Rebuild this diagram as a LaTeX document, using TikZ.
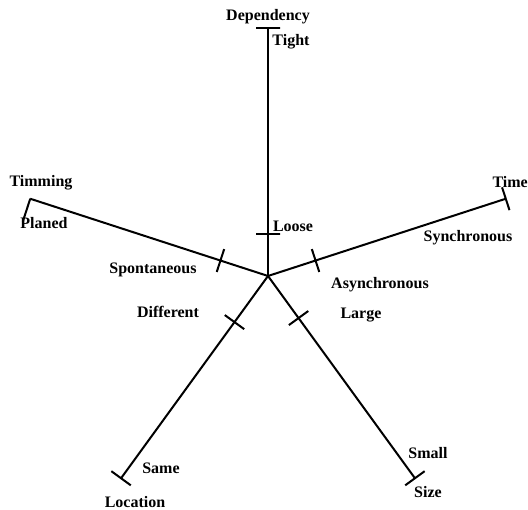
\documentclass[tikz,border=0pt]{standalone}
\usepackage{fontspec}
\setmainfont{Liberation Serif}
\usetikzlibrary{calc}

\tikzset{
  axis/.style={line width=2pt},
  tickmark/.style={draw, line width=2pt, rectangle, minimum width=24pt,
    minimum height=0pt, inner sep=0pt, outer sep=0pt},
  lbl/.style={font=\fontsize{16}{18}\selectfont\bfseries, inner sep=0pt},
}

\begin{document}
\begin{tikzpicture}[x=1pt,y=1pt]
   \useasboundingbox (0,0) rectangle (528,510);
   % centre and the ends of the five axes
   \coordinate (O) at (268,234);
   \coordinate (Dep) at ($(O)+(90:248)$);
   \coordinate (Tim) at ($(O)+(162:250)$);
   \coordinate (Tme) at ($(O)+(18:250)$);
   \coordinate (Loc) at ($(O)+(234:250)$);
   \coordinate (Siz) at ($(O)+(306:250)$);
   \draw [axis] (O) -- (Dep);
   \draw [axis] (O) -- (Tim);
   \draw [axis] (O) -- (Tme);
   \draw [axis] (O) -- (Loc);
   \draw [axis] (O) -- (Siz);
   % end marks
   \node [tickmark, rotate=0] (tDep) at (Dep) {};
   \node [tickmark, rotate=72, anchor=east] (tTim) at (Tim) {};
   \node [tickmark, rotate=-72] (tTme) at (Tme) {};
   \node [tickmark, rotate=144] (tLoc) at (Loc) {};
   \node [tickmark, rotate=216] (tSiz) at (Siz) {};
   % inner marks
   \node [tickmark, rotate=0] (tLoose) at ($(O)+(90:42)$) {};
   \node [tickmark, rotate=72] (tSpon) at ($(O)+(162:50)$) {};
   \node [tickmark, rotate=-72] (tAsyn) at ($(O)+(18:50)$) {};
   \node [tickmark, rotate=144] (tDiff) at ($(O)+(234:57)$) {};
   \node [tickmark, rotate=216] (tLarge) at ($(O)+(306:52)$) {};
   % labels
   \node [lbl] (Dependency) at (268,493) {Dependency};
   \node [lbl] (Tight) at (291,468) {Tight};
   \node [lbl] (Loose) at (293,284) {Loose};
   \node [lbl] (Timming) at (41,327) {Timming};
   \node [lbl] (Planed) at (44,287) {Planed};
   \node [lbl] (Spontaneous) at (153,240) {Spontaneous};
   \node [lbl, anchor=east] (Time) at (528,328) {Time};
   \node [lbl] (Synchronous) at (468,272) {Synchronous};
   \node [lbl] (Asynchronous) at (380,225) {Asynchronous};
   \node [lbl] (Different) at (168,198) {Different};
   \node [lbl] (Same) at (161,42) {Same};
   \node [lbl] (Location) at (135,8) {Location};
   \node [lbl] (Large) at (361,195) {Large};
   \node [lbl] (Small) at (428,57) {Small};
   \node [lbl] (Size) at (428,18) {Size};
\end{tikzpicture}
\end{document}
